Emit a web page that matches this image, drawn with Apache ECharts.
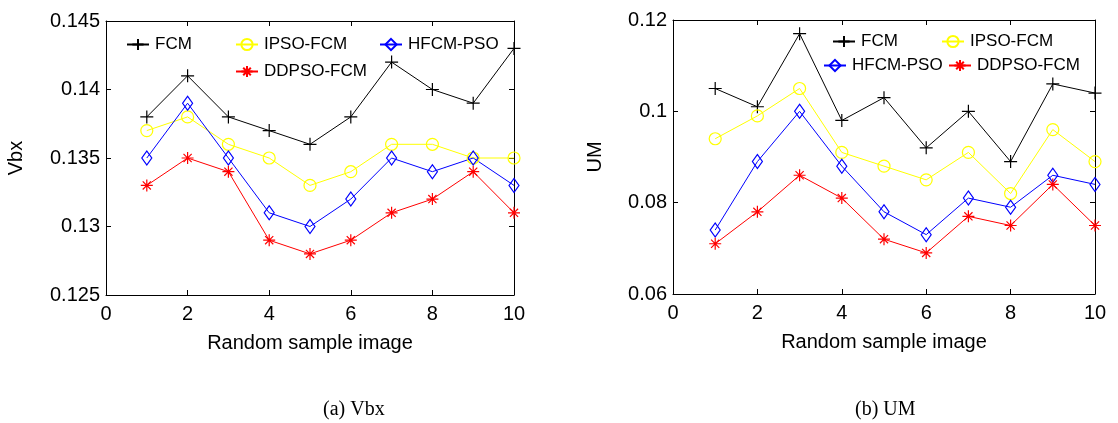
<!DOCTYPE html>
<html>
<head>
<meta charset="utf-8">
<script src="https://cdn.jsdelivr.net/npm/echarts@6/dist/echarts.min.js"></script>
<style>
  html, body { margin: 0; padding: 0; background: #fff; }
  #chart { width: 1118px; height: 423px; }
</style>
</head>
<body>
<div id="chart"></div>
<script>
// Sample index along the x axis
const samples = [1, 2, 3, 4, 5, 6, 7, 8, 9, 10];
const methodNames = ['FCM', 'IPSO-FCM', 'HFCM-PSO', 'DDPSO-FCM'];

// (a) Vbx validity index per method
const vbxFCM   = [0.138, 0.141, 0.138, 0.137, 0.136, 0.138, 0.142, 0.140, 0.139, 0.143];
const vbxIPSO  = [0.137, 0.138, 0.136, 0.135, 0.133, 0.134, 0.136, 0.136, 0.135, 0.135];
const vbxHFCM  = [0.135, 0.139, 0.135, 0.131, 0.130, 0.132, 0.135, 0.134, 0.135, 0.133];
const vbxDDPSO = [0.133, 0.135, 0.134, 0.129, 0.128, 0.129, 0.131, 0.132, 0.134, 0.131];

// (b) UM index per method
const umFCM   = [0.105, 0.101, 0.117, 0.098, 0.103, 0.092, 0.100, 0.089, 0.106, 0.104];
const umIPSO  = [0.094, 0.099, 0.105, 0.091, 0.088, 0.085, 0.091, 0.082, 0.096, 0.089];
const umHFCM  = [0.074, 0.089, 0.100, 0.088, 0.078, 0.073, 0.081, 0.079, 0.086, 0.084];
const umDDPSO = [0.071, 0.078, 0.086, 0.081, 0.072, 0.069, 0.077, 0.075, 0.084, 0.075];

// Axis ranges / ticks
const xRange = { min: 0, max: 10, interval: 2 };
const vbxRange = { min: 0.125, max: 0.145, interval: 0.005 };
const umRange = { min: 0.06, max: 0.12, interval: 0.02 };

const sans = 'Liberation Sans, Arial, Helvetica, sans-serif';
const plusPath = 'path://M5,0L5,10M0,5L10,5';
const starPath = 'path://M5,0L5,10M0,5L10,5M1.6,1.6L8.4,8.4M1.6,8.4L8.4,1.6';

const methodStyle = {
  'FCM':       { color: '#000000', symbol: plusPath, size: 13 },
  'IPSO-FCM':  { color: '#ffff00', symbol: 'circle', size: 12 },
  'HFCM-PSO':  { color: '#0000ff', symbol: 'diamond', size: [10, 14] },
  'DDPSO-FCM': { color: '#ff0000', symbol: starPath, size: 12 }
};

function pairs(values) {
  return samples.map((s, i) => [s, values[i]]);
}

function makeSeries(name, values, axisIndex) {
  const st = methodStyle[name];
  return {
    type: 'line',
    name: name,
    xAxisIndex: axisIndex,
    yAxisIndex: axisIndex,
    data: pairs(values),
    symbol: st.symbol,
    symbolSize: st.size,
    showAllSymbol: true,
    animation: false,
    lineStyle: { color: st.color, width: 1 },
    itemStyle: { color: 'rgba(0,0,0,0)', borderColor: st.color, borderWidth: 1.2 },
    emphasis: { disabled: true }
  };
}

const tickLabel = { color: '#000', fontSize: 20, fontFamily: sans };

function xAxes(gridIndex) {
  const base = {
    type: 'value', gridIndex: gridIndex,
    min: xRange.min, max: xRange.max, interval: xRange.interval,
    splitLine: { show: false },
    axisLine: { show: true, onZero: false, lineStyle: { color: '#000', width: 1 } },
    axisTick: { show: true, inside: true, length: 5, lineStyle: { color: '#000' } }
  };
  return [
    Object.assign({}, base, {
      position: 'bottom',
      axisLabel: Object.assign({ margin: 9 }, tickLabel),
      name: 'Random sample image', nameLocation: 'middle', nameGap: 38,
      nameTextStyle: { color: '#000', fontSize: 20, fontFamily: sans }
    }),
    Object.assign({}, base, { position: 'top', axisLabel: { show: false } })
  ];
}

function yAxes(gridIndex, range, title, gap) {
  const base = {
    type: 'value', gridIndex: gridIndex,
    min: range.min, max: range.max, interval: range.interval,
    splitLine: { show: false },
    axisLine: { show: true, onZero: false, lineStyle: { color: '#000', width: 1 } },
    axisTick: { show: true, inside: true, length: 5, lineStyle: { color: '#000' } }
  };
  return [
    Object.assign({}, base, {
      position: 'left',
      axisLabel: Object.assign({ margin: 6 }, tickLabel),
      name: title, nameLocation: 'middle', nameGap: gap,
      nameTextStyle: { color: '#000', fontSize: 20, fontFamily: sans }
    }),
    Object.assign({}, base, { position: 'right', axisLabel: { show: false } })
  ];
}

// One legend entry per method, placed individually inside each panel
function legendItem(name, left, top) {
  return {
    data: [name], left: left, top: top, padding: 0,
    itemWidth: 22, itemHeight: 14, itemGap: 0,
    selectedMode: false,
    textStyle: { color: '#000', fontSize: 17, fontFamily: sans, padding: [0, 0, 0, 1] }
  };
}

const option = {
  backgroundColor: '#fff',
  animation: false,
  grid: [
    { left: 106, top: 21, width: 408, height: 274 },
    { left: 673, top: 20, width: 422, height: 274 }
  ],
  xAxis: [...xAxes(0), ...xAxes(1)],
  yAxis: [...yAxes(0, vbxRange, 'Vbx', 80), ...yAxes(1, umRange, 'UM', 68)],
  legend: [
    legendItem('FCM', 126, 36),
    legendItem('IPSO-FCM', 235, 36),
    legendItem('HFCM-PSO', 379, 36),
    legendItem('DDPSO-FCM', 235, 63),
    legendItem('FCM', 832, 33),
    legendItem('IPSO-FCM', 941, 33),
    legendItem('HFCM-PSO', 823, 57),
    legendItem('DDPSO-FCM', 948, 57)
  ],
  series: [
    makeSeries('FCM', vbxFCM, 0),
    makeSeries('IPSO-FCM', vbxIPSO, 0),
    makeSeries('HFCM-PSO', vbxHFCM, 0),
    makeSeries('DDPSO-FCM', vbxDDPSO, 0),
    makeSeries('FCM', umFCM, 2),
    makeSeries('IPSO-FCM', umIPSO, 2),
    makeSeries('HFCM-PSO', umHFCM, 2),
    makeSeries('DDPSO-FCM', umDDPSO, 2)
  ],
  graphic: [
    { type: 'text', left: 323, top: 400, style: { text: '(a) Vbx', fontSize: 20, fontFamily: 'Liberation Serif, Times New Roman, serif', fill: '#000', textAlign: 'center' } },
    { type: 'text', left: 855, top: 400, style: { text: '(b) UM', fontSize: 20, fontFamily: 'Liberation Serif, Times New Roman, serif', fill: '#000', textAlign: 'center' } }
  ]
};

const chart = echarts.init(document.getElementById('chart'), null, { renderer: 'canvas' });
chart.setOption(option);
</script>
</body>
</html>
